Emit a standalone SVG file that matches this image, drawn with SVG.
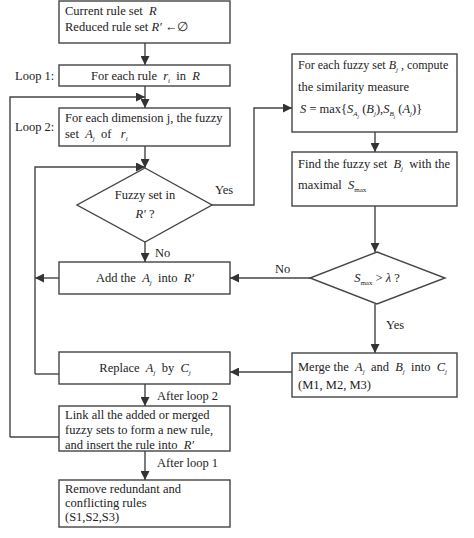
<svg xmlns="http://www.w3.org/2000/svg" width="474" height="538" viewBox="0 0 474 538">
<defs>
<marker id="ah" viewBox="0 0 10 10" refX="10" refY="5" markerWidth="9" markerHeight="9" markerUnits="userSpaceOnUse" orient="auto">
<path d="M0,0 L10,5 L0,10 z" fill="#333"/>
</marker>
<style>
.b{fill:#fff;stroke:#444;stroke-width:1.4}
.c{fill:none;stroke:#444;stroke-width:1.4}
.a{fill:none;stroke:#444;stroke-width:1.4;marker-end:url(#ah)}
text{font-family:"Liberation Serif","Times New Roman",serif;font-size:12.5px;fill:#222;white-space:pre}
.i{font-style:italic}
.s{font-size:7px;font-style:italic}
.m{text-anchor:middle}
</style>
</defs>
<rect width="474" height="538" fill="#fff"/>
<g id="connectors">
<path class="a" d="M145,43 V65"/>
<path class="a" d="M145,86 V108"/>
<path class="a" d="M10,437 V97 H145"/>
<path class="c" d="M59,437 H10"/>
<path class="a" d="M145,146 V168"/>
<path class="a" d="M35,374 V167 H145"/>
<path class="c" d="M59,374 H35"/>
<path class="a" d="M59,278 H35"/>
<path class="a" d="M212,205 H254 V108 H292"/>
<path class="a" d="M145,242 V262"/>
<path class="a" d="M375,132 V152"/>
<path class="a" d="M375,206 V252"/>
<path class="a" d="M310,278 H230"/>
<path class="a" d="M375,304 V353"/>
<path class="a" d="M292,372 H230"/>
<path class="a" d="M145,384 V406"/>
<path class="a" d="M145,451 V480"/>
<text x="215" y="194">Yes</text>
<text x="155" y="257">No</text>
<text x="275" y="273">No</text>
<text x="386" y="329">Yes</text>
<text x="157" y="400">After loop 2</text>
<text x="157" y="467">After loop 1</text>
</g>
<g id="start">
<rect class="b" x="59" y="1" width="171" height="42"/>
<text x="65" y="15">Current rule set  <tspan class="i">R</tspan></text>
<text x="65" y="31">Reduced rule set <tspan class="i">R′</tspan> ←∅</text>
</g>
<g id="loop1">
<text x="15" y="80">Loop 1:</text>
<rect class="b" x="59" y="65" width="171" height="21"/>
<text x="91" y="80">For each rule  <tspan class="i">r</tspan><tspan class="s" dy="3">i</tspan><tspan dy="-3">  in  </tspan><tspan class="i">R</tspan></text>
</g>
<g id="loop2">
<text x="15" y="131">Loop 2:</text>
<rect class="b" x="59" y="108" width="171" height="38"/>
<text x="65" y="122">For each dimension j, the fuzzy</text>
<text x="65" y="138">set  <tspan class="i">A</tspan><tspan class="s" dy="3">j</tspan><tspan dy="-3">  of   </tspan><tspan class="i">r</tspan><tspan class="s" dy="3">i</tspan></text>
</g>
<g id="decision1">
<polygon class="b" points="145,168 212,205 145,242 77,205"/>
<text class="m" x="145" y="199">Fuzzy set in</text>
<text class="m" x="145" y="218"><tspan class="i">R′</tspan> ?</text>
</g>
<g id="add">
<rect class="b" x="59" y="262" width="171" height="32"/>
<text class="m" x="145" y="282">Add the  <tspan class="i">A</tspan><tspan class="s" dy="3">j</tspan><tspan dy="-3">  into  </tspan><tspan class="i">R′</tspan></text>
</g>
<g id="replace">
<rect class="b" x="59" y="352" width="171" height="32"/>
<text class="m" x="145" y="372">Replace  <tspan class="i">A</tspan><tspan class="s" dy="3">j</tspan><tspan dy="-3">  by  </tspan><tspan class="i">C</tspan><tspan class="s" dy="3">j</tspan></text>
</g>
<g id="link">
<rect class="b" x="59" y="406" width="171" height="45"/>
<text x="65" y="419">Link all the added or merged</text>
<text x="65" y="434">fuzzy sets to form a new rule,</text>
<text x="65" y="449">and insert the rule into  <tspan class="i">R′</tspan></text>
</g>
<g id="remove">
<rect class="b" x="59" y="480" width="171" height="47"/>
<text x="65" y="493">Remove redundant and</text>
<text x="65" y="507">conflicting rules</text>
<text x="65" y="521">(S1,S2,S3)</text>
</g>
<g id="similarity">
<rect class="b" x="292" y="54" width="165" height="78"/>
<text x="298" y="69" style="font-size:12px">For each fuzzy set <tspan class="i">B</tspan><tspan class="s" dy="3">j</tspan><tspan dy="-3"> , compute</tspan></text>
<text x="298" y="91">the similarity measure</text>
<text x="300" y="113"><tspan class="i">S</tspan> = max{<tspan class="i">S</tspan><tspan class="s" dy="3">A</tspan><tspan class="s" dy="2" style="font-size:5px">j</tspan><tspan dy="-5"> (</tspan><tspan class="i">B</tspan><tspan class="s" dy="3">j</tspan><tspan dy="-3">),</tspan><tspan class="i">S</tspan><tspan class="s" dy="3">B</tspan><tspan class="s" dy="2" style="font-size:5px">j</tspan><tspan dy="-5"> (</tspan><tspan class="i">A</tspan><tspan class="s" dy="3">j</tspan><tspan dy="-3">)}</tspan></text>
</g>
<g id="find">
<rect class="b" x="292" y="152" width="165" height="54"/>
<text x="298" y="168">Find the fuzzy set  <tspan class="i">B</tspan><tspan class="s" dy="3">j</tspan><tspan dy="-3">  with the</tspan></text>
<text x="298" y="189">maximal  <tspan class="i">S</tspan><tspan class="s" dy="3" style="font-style:normal">max</tspan></text>
</g>
<g id="decision2">
<polygon class="b" points="377,252 445,278 377,304 310,278"/>
<text class="m" x="377" y="282"><tspan class="i">S</tspan><tspan class="s" dy="3" style="font-style:normal">max</tspan><tspan dy="-3"> &gt; </tspan><tspan class="i">λ</tspan> ?</text>
</g>
<g id="merge">
<rect class="b" x="292" y="353" width="165" height="44"/>
<text x="298" y="371">Merge the  <tspan class="i">A</tspan><tspan class="s" dy="3">j</tspan><tspan dy="-3">  and  </tspan><tspan class="i">B</tspan><tspan class="s" dy="3">j</tspan><tspan dy="-3">  into  </tspan><tspan class="i">C</tspan><tspan class="s" dy="3">j</tspan></text>
<text x="298" y="389">(M1, M2, M3)</text>
</g>
</svg>
